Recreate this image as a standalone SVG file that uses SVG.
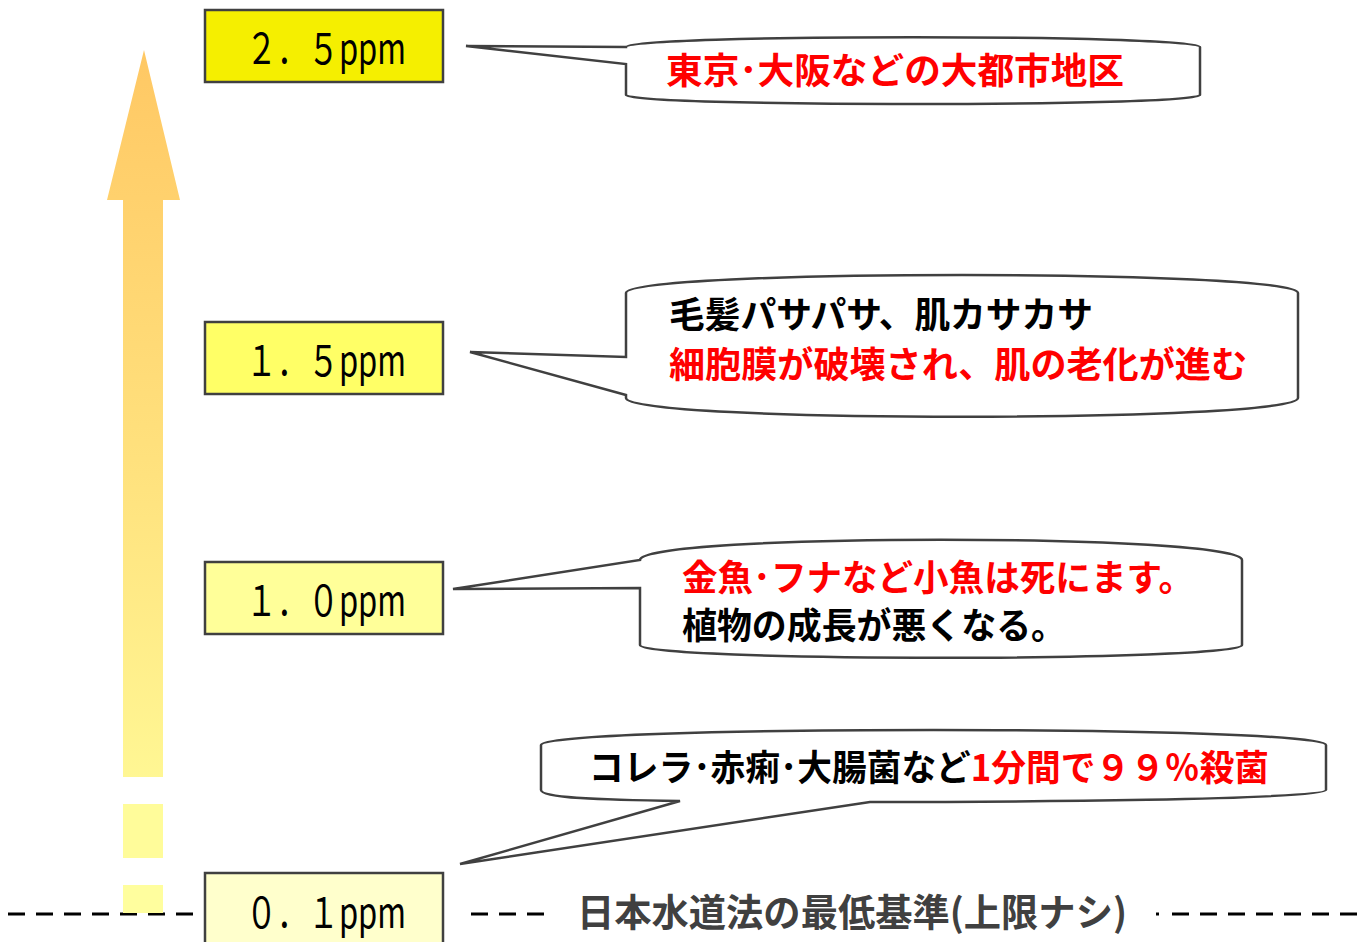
<svg xmlns="http://www.w3.org/2000/svg" width="1370" height="942" viewBox="0 0 1370 942">
<defs>
<linearGradient id="arrowGrad" gradientUnits="userSpaceOnUse" x1="0" y1="50" x2="0" y2="900">
<stop offset="0" stop-color="#FFC864"/>
<stop offset="0.5" stop-color="#FFE27E"/>
<stop offset="1" stop-color="#FFFF9C"/>
</linearGradient>
<style>
.box{stroke:#404040;stroke-width:2.5}
.lvl{font-family:"Noto Sans CJK JP","Liberation Sans",sans-serif;font-size:42px;fill:#000}
.bub{fill:#fff;stroke:#404040;stroke-width:2.5;stroke-linejoin:miter}
.t{font-family:"Noto Sans CJK JP","Liberation Sans",sans-serif;font-weight:700;font-size:36px}
.red{fill:#FF0000}
.blk{fill:#000}
.dash{stroke:#000;stroke-width:3;stroke-dasharray:17 11;fill:none}
</style>
</defs>
<rect width="1370" height="942" fill="#fff"/>

<g id="baseline-dashes">
<line class="dash" x1="8" y1="914" x2="195" y2="914"/>
<line class="dash" x1="471" y1="914" x2="548" y2="914"/>
<line x1="1156" y1="914" x2="1159" y2="914" stroke="#000" stroke-width="3"/>
<line class="dash" x1="1172" y1="914" x2="1362" y2="914"/>
</g>

<g id="arrow">
<polygon points="144,50 180,200 163,200 163,777 123,777 123,200 107,200" fill="url(#arrowGrad)"/>
<rect x="123" y="804" width="40" height="54" fill="#FFFC9A"/>
<rect x="123" y="885" width="40" height="28" fill="#FFFE9E"/>
</g>

<g id="connectors">
<path class="bub" d="M626,47 C626,34 1200,34 1200,47 L1200,95 C1200,107 626,107 626,95 L626,64 L466,46 Z"/>
<path class="bub" d="M626,293 C626,269 1298,269 1298,293 L1298,398 C1298,423 626,423 626,398 L626,395 L470,352 L626,357 Z"/>
<path class="bub" d="M640,560 C640,533 1242,533 1242,560 L1242,645 C1242,662 640,662 640,645 L640,588 L453,589 Z"/>
<path class="bub" d="M541,745 C541,725 1326,725 1326,745 L1326,790 C1326,800 1000,802 870,802 L460,864 L680,801 C600,800 541,798 541,790 Z"/>
</g>

<g id="node-2-5">
<rect class="box" x="205" y="10" width="238" height="72" fill="#F5EF00"/>
<text class="lvl" x="246" y="64" textLength="160" lengthAdjust="spacingAndGlyphs">２．５ppm</text>
</g>
<g id="node-1-5">
<rect class="box" x="205" y="322" width="238" height="72" fill="#FFFF66"/>
<text class="lvl" x="246" y="376" textLength="160" lengthAdjust="spacingAndGlyphs">１．５ppm</text>
</g>
<g id="node-1-0">
<rect class="box" x="205" y="562" width="238" height="72" fill="#FFFF99"/>
<text class="lvl" x="246" y="616" textLength="160" lengthAdjust="spacingAndGlyphs">１．０ppm</text>
</g>
<g id="node-0-1">
<rect class="box" x="205" y="873" width="238" height="80" fill="#FFFFCC"/>
<text class="lvl" x="246" y="928" textLength="160" lengthAdjust="spacingAndGlyphs">０．１ppm</text>
</g>

<g id="label-2-5">
<text class="t red" x="666" y="84" textLength="458" lengthAdjust="spacingAndGlyphs">東京･大阪などの大都市地区</text>
</g>
<g id="label-1-5">
<text class="t blk" x="669" y="328" textLength="424" lengthAdjust="spacingAndGlyphs">毛髪パサパサ、肌カサカサ</text>
<text class="t red" x="669" y="378" textLength="578" lengthAdjust="spacingAndGlyphs">細胞膜が破壊され、肌の老化が進む</text>
</g>
<g id="label-1-0">
<text class="t red" x="682" y="591" textLength="512" lengthAdjust="spacingAndGlyphs">金魚･フナなど小魚は死にます。</text>
<text class="t blk" x="682" y="639" textLength="384" lengthAdjust="spacingAndGlyphs">植物の成長が悪くなる。</text>
</g>
<g id="label-0-1">
<text class="t" x="589" y="781" textLength="680" lengthAdjust="spacingAndGlyphs"><tspan class="blk">コレラ･赤痢･大腸菌など</tspan><tspan class="red">1分間で９９％殺菌</tspan></text>
</g>
<g id="label-standard">
<text class="t" x="577" y="926" font-size="38" fill="#404040" textLength="550" lengthAdjust="spacingAndGlyphs" style="font-size:38px">日本水道法の最低基準(上限ナシ)</text>
</g>
</svg>
